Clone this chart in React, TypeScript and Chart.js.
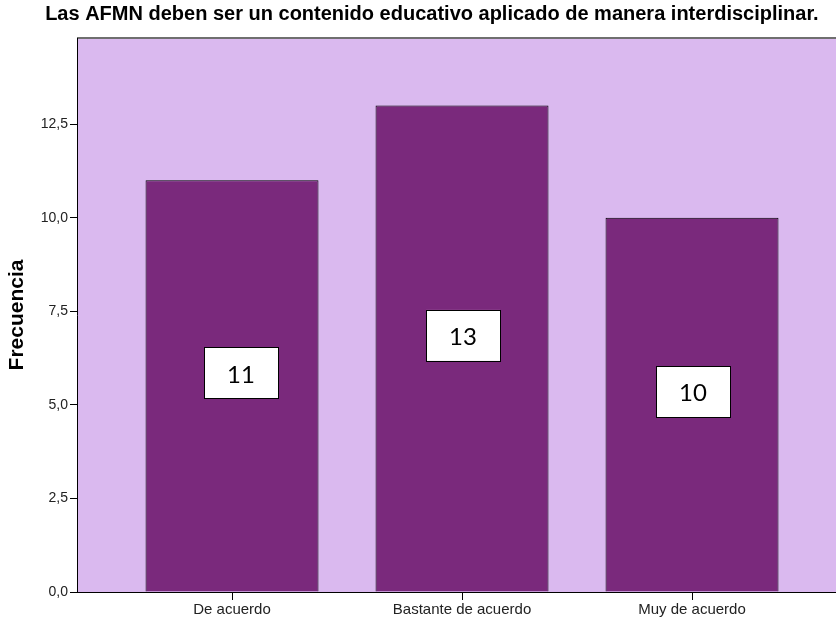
import React, { useEffect, useRef } from "react";
import { Chart, registerables } from "chart.js";

Chart.register(...registerables);

const categories = ["De acuerdo", "Bastante de acuerdo", "Muy de acuerdo"];
const frequencies = [11, 13, 10];
const yTicks = [0, 2.5, 5, 7.5, 10, 12.5];
const titleText = "     Las AFMN deben ser un contenido educativo aplicado de manera interdisciplinar.";
const yTitle = "Frecuencia";

const PLOT_BG = "#DAB9EF";
const BAR_COLOR = "#7A297C";
const FONT = "'Liberation Sans', Arial, sans-serif";

const bgPlugin = {
  id: "plotBg",
  beforeDraw(chart: any) {
    const { ctx, chartArea } = chart;
    ctx.save();
    ctx.fillStyle = PLOT_BG;
    ctx.fillRect(chartArea.left, chartArea.top, chartArea.right - chartArea.left, chartArea.bottom - chartArea.top);
    ctx.strokeStyle = "#6f6f6f";
    ctx.lineWidth = 2;
    ctx.beginPath();
    ctx.moveTo(chartArea.left, chartArea.top);
    ctx.lineTo(chartArea.right, chartArea.top);
    ctx.stroke();
    ctx.restore();
  },
};

const labelPlugin = {
  id: "valueBoxes",
  afterDatasetsDraw(chart: any) {
    const { ctx } = chart;
    const meta = chart.getDatasetMeta(0);
    ctx.save();
    meta.data.forEach((bar: any, i: number) => {
      const cx = bar.x + (i === 0 ? 9 : 1);
      const cy = (bar.y + bar.base) / 2 - 13;
      const w = 74;
      const h = 51;
      ctx.fillStyle = "#ffffff";
      ctx.fillRect(cx - w / 2, cy - h / 2, w, h);
      ctx.strokeStyle = "#000000";
      ctx.lineWidth = 1;
      ctx.strokeRect(Math.round(cx - w / 2) + 0.5, Math.round(cy - h / 2) + 0.5, w, h);
      ctx.fillStyle = "#000000";
      ctx.font = "24px Lato, 'Open Sans', sans-serif";
      ctx.textAlign = "center";
      ctx.textBaseline = "middle";
      ctx.fillText(String(frequencies[i]), cx, cy + 2);
    });
    ctx.restore();
  },
};

export default function App() {
  const ref = useRef<HTMLCanvasElement | null>(null);
  useEffect(() => {
    document.body.style.margin = "0";
    const canvas = ref.current!;
    const chart = new Chart(canvas, {
      type: "bar",
      data: {
        datasets: [
          {
            data: frequencies.map((v, i) => ({ x: i, y: v })),
            backgroundColor: BAR_COLOR,
            borderColor: "#000000",
            borderWidth: 1,
            borderSkipped: "bottom",
            barPercentage: 0.752,
            categoryPercentage: 1,
          },
        ],
      },
      options: {
        animation: false,
        responsive: false,
        maintainAspectRatio: false,
        layout: { padding: 0 },
        plugins: {
          legend: { display: false },
          tooltip: { enabled: false },
          title: {
            display: true,
            text: titleText,
            color: "#000000",
            font: { family: FONT, size: 20, weight: "bold" },
            padding: { top: 2, bottom: 12 },
          },
        },
        scales: {
          x: {
            type: "linear",
            min: -0.674,
            max: 2.626,
            offset: false,
            afterBuildTicks: (scale: any) => {
              scale.ticks = categories.map((_, i) => ({ value: i }));
            },
            afterFit: (scale: any) => {
              scale.height = 30;
            },
            ticks: {
              callback: (v: any) => categories[Math.round(Number(v))] ?? "",
              color: "#222222",
              font: { family: FONT, size: 15 },
              padding: 1,
              maxRotation: 0,
            },
            grid: { display: true, offset: false, drawOnChartArea: false, drawTicks: true, tickLength: 8, color: "#000000" },
            border: { display: true, color: "#000000", width: 1 },
          },
          y: {
            type: "linear",
            min: 0,
            max: 14.8,
            afterBuildTicks: (scale: any) => {
              scale.ticks = yTicks.map((v) => ({ value: v }));
            },
            afterFit: (scale: any) => {
              scale.width = 77;
            },
            ticks: {
              callback: (v: any) => Number(v).toFixed(1).replace(".", ","),
              color: "#222222",
              font: { family: FONT, size: 14 },
              padding: 2,
            },
            grid: { display: true, offset: false, drawOnChartArea: false, drawTicks: true, tickLength: 7, color: "#000000" },
            border: { display: true, color: "#000000", width: 1 },
            title: {
              display: true,
              text: yTitle,
              color: "#000000",
              font: { family: FONT, size: 21, weight: "bold" },
              padding: { top: 5, bottom: 0 },
            },
          },
        },
      },
      plugins: [bgPlugin, labelPlugin],
    } as any);
    return () => chart.destroy();
  }, []);
  return (
    <div style={{ width: 836, height: 622, background: "#ffffff" }}>
      <canvas ref={ref} width={836} height={622} style={{ display: "block", width: 836, height: 622 }} />
    </div>
  );
}
